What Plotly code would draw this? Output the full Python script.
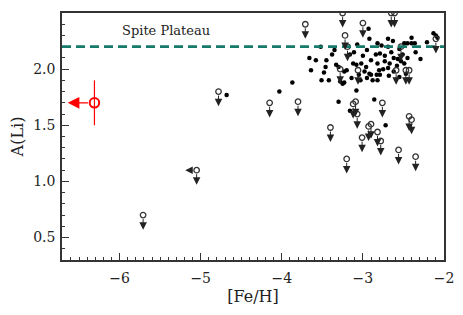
import plotly.graph_objects as go

# Filled detections
det_feh = [-4.68, -4.03, -3.87, -3.30, -3.16, -3.08, -2.86, -2.72, -2.29,
           -3.52, -3.38, -3.66, -3.58, -3.46, -3.33, -3.30, -3.64, -3.48, -3.51, -3.42,
           -3.23, -3.28, -3.23, -3.25,
           -2.93, -2.92, -3.07, -2.82, -2.77, -2.69, -2.69, -2.63, -2.40, -2.49, -2.45,
           -2.40, -2.36, -2.21, -2.13, -2.10, -2.08, -2.55, -2.51, -2.57, -2.53, -2.49,
           -3.16, -2.84, -2.79, -2.73, -2.65, -2.62, -3.12, -3.08, -3.02, -2.96, -2.90,
           -2.82, -2.73, -2.67, -3.20, -2.98, -2.92, -2.80, -2.69, -2.62, -3.14, -3.03,
           -2.88, -2.82, -2.95, -2.83, -2.79, -2.90, -2.68, -2.47, -3.11,
           -2.58, -2.45, -2.35, -3.35, -3.45, -3.00, -2.95, -2.75, -2.55, -3.05]
det_ali = [1.77, 1.80, 1.88, 1.71, 1.63, 1.81, 1.73, 1.50, 2.09,
           2.20, 2.13, 2.10, 2.08, 2.02, 2.04, 2.02, 1.99, 1.97, 1.90, 1.90,
           1.98, 1.89, 1.88, 1.87,
           2.36, 2.27, 2.22, 2.23, 2.21, 2.20, 2.27, 2.25, 2.28, 2.23, 2.23,
           2.23, 2.23, 2.24, 2.32, 2.30, 2.28, 2.18, 2.13, 2.09, 2.07, 2.05,
           2.13, 2.13, 2.14, 2.12, 2.15, 2.10, 2.05, 2.04, 2.05, 2.02, 2.08,
           2.05, 2.07, 2.05, 1.99, 1.98, 1.96, 1.99, 2.01, 1.98, 1.92, 1.90,
           1.90, 1.90, 1.92, 1.95, 1.95, 1.95, 1.94, 1.96, 2.15,
           2.03, 2.10, 2.15, 2.17, 2.08, 2.12, 2.17, 2.00, 1.93, 1.95]

# Upper limits in A(Li)
lim_feh = [-5.71, -5.05, -4.78, -4.15, -3.80, -3.71, -3.25, -2.65, -2.61, -3.22,
           -3.00, -3.19, -3.28, -3.06, -2.59, -2.47, -2.43, -3.12, -3.09, -3.07,
           -2.76, -3.40, -3.01, -2.90, -2.93, -2.82, -2.78, -2.43, -2.40, -2.56,
           -2.35, -3.20, -2.10, -2.53]
lim_ali = [0.70, 1.10, 1.80, 1.70, 1.71, 2.40, 2.50, 2.50, 2.50, 2.30,
           2.41, 2.20, 2.00, 1.99, 1.99, 1.99, 1.99, 1.69, 1.71, 1.60,
           1.70, 1.48, 1.39, 1.51, 1.49, 1.44, 1.36, 1.58, 1.55, 1.28,
           1.22, 1.20, 2.27, 2.20]

# Star with upper limit in [Fe/H] too
xlim_feh = [-5.05]
xlim_ali = [1.10]

# Highlighted star
new_feh = [-6.31]
new_ali = [1.70]
new_err = [0.20]

arrow_len_y = 0.13
arrow_len_x = 0.14
new_arrow_x = 0.33

spite_level = 2.2
spite_label = "Spite Plateau"

FONT = "DejaVu Serif"

fig = go.Figure()

fig.add_trace(go.Scatter(
    x=det_feh, y=det_ali, mode="markers",
    marker=dict(symbol="circle", size=4.5, color="black"),
    showlegend=False, hoverinfo="skip"))

fig.add_trace(go.Scatter(
    x=lim_feh, y=lim_ali, mode="markers",
    marker=dict(symbol="circle-open", size=5.5, color="#333333", line=dict(width=1.3)),
    showlegend=False, hoverinfo="skip"))

fig.add_trace(go.Scatter(
    x=new_feh, y=new_ali, mode="markers",
    marker=dict(symbol="circle-open", size=9.5, color="red", line=dict(width=2)),
    error_y=dict(type="data", array=new_err, symmetric=True, color="red",
                 thickness=1.2, width=0),
    showlegend=False, hoverinfo="skip"))

annotations = []
for fx, ay in zip(lim_feh, lim_ali):
    annotations.append(dict(
        x=fx, y=ay - arrow_len_y, ax=fx, ay=ay, xref="x", yref="y",
        axref="x", ayref="y", text="", showarrow=True, arrowhead=2,
        arrowsize=1.5, arrowwidth=1, arrowcolor="#222222", startstandoff=2.5))
for fx, ay in zip(xlim_feh, xlim_ali):
    annotations.append(dict(
        x=fx - arrow_len_x, y=ay, ax=fx, ay=ay, xref="x", yref="y",
        axref="x", ayref="y", text="", showarrow=True, arrowhead=2,
        arrowsize=1.5, arrowwidth=1, arrowcolor="#222222", startstandoff=2.5))
for fx, ay in zip(new_feh, new_ali):
    annotations.append(dict(
        x=fx - new_arrow_x, y=ay, ax=fx, ay=ay, xref="x", yref="y",
        axref="x", ayref="y", text="", showarrow=True, arrowhead=2,
        arrowsize=1.8, arrowwidth=1.3, arrowcolor="red", startstandoff=5))

annotations.append(dict(
    x=-6.0, y=2.34, xref="x", yref="y", text=spite_label, showarrow=False,
    xanchor="left", yanchor="middle", font=dict(family=FONT, size=13, color="#222222")))

fig.add_shape(type="line", xref="paper", yref="y", x0=0, x1=1,
              y0=spite_level, y1=spite_level,
              line=dict(color="#167a6a", width=2.7, dash="9px,5px"))

fig.update_layout(
    width=447, height=299,
    margin=dict(l=54, r=11, t=5, b=47, autoexpand=False),
    paper_bgcolor="white", plot_bgcolor="white",
    font=dict(family=FONT, size=14, color="#222222"),
    annotations=annotations,
    xaxis=dict(
        range=[-6.71, -2.0], tickvals=[-6, -5, -4, -3, -2],
        ticktext=["\u22126", "\u22125", "\u22124", "\u22123", "\u22122"],
        ticks="inside", ticklen=7, tickwidth=1.3, tickcolor="#333333",
        minor=dict(ticks="inside", ticklen=3.5, tickwidth=1, dtick=0.1, tick0=-6,
                   tickcolor="#333333"),
        showline=True, linecolor="#333333", linewidth=1.5, mirror=True,
        showgrid=False, zeroline=False, automargin=False,
        ticklabelstandoff=4,
        title=dict(text="[Fe/H]", font=dict(family=FONT, size=16), standoff=6),
        tickfont=dict(family=FONT, size=14),
    ),
    yaxis=dict(
        range=[0.3, 2.5], tickvals=[0.5, 1.0, 1.5, 2.0, 2.5],
        ticktext=["0.5", "1.0", "1.5", "2.0", "2.5"],
        ticks="inside", ticklen=7, tickwidth=1.3, tickcolor="#333333",
        minor=dict(ticks="inside", ticklen=3.5, tickwidth=1, dtick=0.1, tick0=0.5,
                   tickcolor="#333333"),
        showline=True, linecolor="#333333", linewidth=1.5, mirror=True,
        showgrid=False, zeroline=False, automargin=False,
        ticklabelstandoff=2,
        title=dict(text="A(Li)", font=dict(family=FONT, size=16), standoff=6),
        tickfont=dict(family=FONT, size=14),
    ),
)

fig.write_html("out.html")
